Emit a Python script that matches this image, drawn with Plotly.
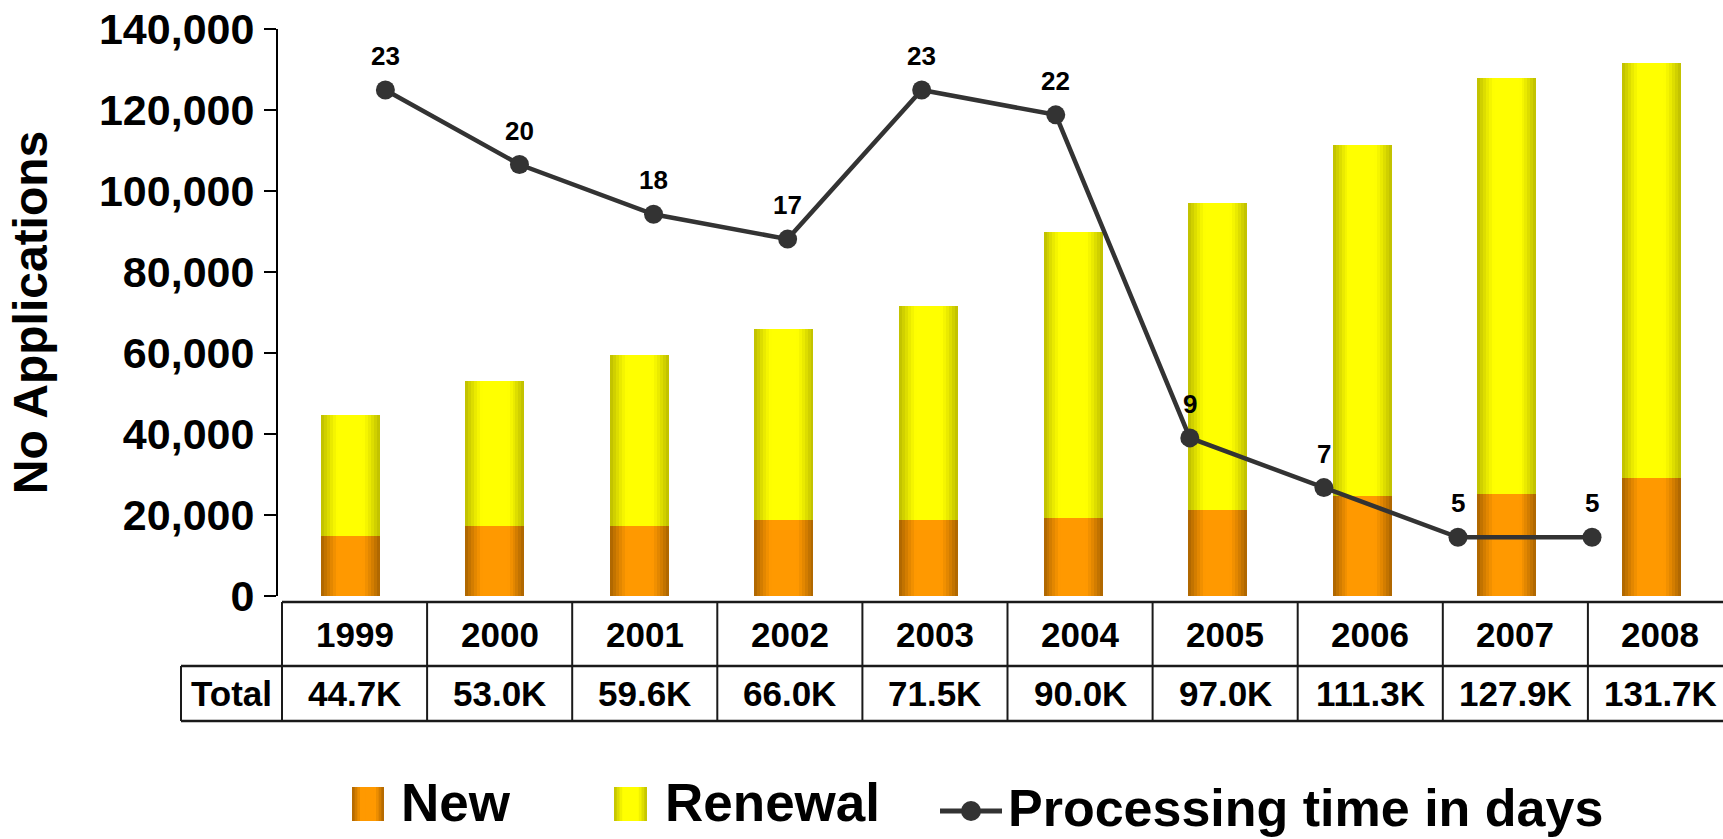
import numpy as np
import plotly.graph_objects as go

# ---------------- data ----------------
years = ["1999", "2000", "2001", "2002", "2003", "2004", "2005", "2006", "2007", "2008"]
new_apps = [14800, 17300, 17300, 18800, 18800, 19300, 21200, 24700, 25200, 29100]
renewal_apps = [29900, 35700, 42300, 47200, 52700, 70700, 75800, 86600, 102700, 102600]
total_labels = ["44.7K", "53.0K", "59.6K", "66.0K", "71.5K", "90.0K", "97.0K", "111.3K", "127.9K", "131.7K"]
proc_years = [1999, 2000, 2001, 2002, 2003, 2004, 2005, 2006, 2007, 2008]
proc_days = [23, 20, 18, 17, 23, 22, 9, 7, 5, 5]
y_ticks = [0, 20000, 40000, 60000, 80000, 100000, 120000, 140000]

# ---------------- layout geometry ----------------
W, H = 1723, 839
ML, MR, MT, MB = 278, 0, 29, 243
PW = W - ML - MR
PH = H - MT - MB
CAT_PX = 144.56          # pixels per category on bar axis
LINE_PX = 134.07         # pixels per step on the line axis
FONT = "Liberation Sans, Arial, sans-serif"


def px2x(px):
    return (px - ML) / PW


def px2y(py):
    return (H - MB - py) / PH


ORANGE_DARK, ORANGE_BRIGHT = (168, 98, 0), (255, 153, 0)
YELLOW_DARK, YELLOW_BRIGHT = (188, 188, 0), (255, 255, 0)


def shade(dark, bright, t):
    f = min(1.0, 1.3 * np.sin(np.pi * t))
    return "rgb(%d,%d,%d)" % tuple(int(round(d + (b - d) * f)) for d, b in zip(dark, bright))


BAR_W = 0.408
N_STRIP = 20

fig = go.Figure()

# gradient bars built from narrow overlaid strips
for series, base, dark, bright in [
    (new_apps, [0] * len(new_apps), ORANGE_DARK, ORANGE_BRIGHT),
    (renewal_apps, new_apps, YELLOW_DARK, YELLOW_BRIGHT),
]:
    for k in range(N_STRIP):
        t0 = k / N_STRIP
        tc = (k + 0.5) / N_STRIP
        fig.add_bar(
            x=years, y=series, base=base,
            offset=-BAR_W / 2 + t0 * BAR_W, width=BAR_W * (1 - t0),
            marker=dict(color=shade(dark, bright, tc), line=dict(width=0)),
            showlegend=False, hoverinfo="skip",
        )

# processing time line
fig.add_trace(go.Scatter(
    x=proc_years, y=proc_days, xaxis="x2", yaxis="y2",
    mode="lines+markers",
    line=dict(color="#333333", width=4.5),
    marker=dict(size=19, color="#333333"),
    showlegend=False, hoverinfo="skip",
))

annotations = []
for yr, d in zip(proc_years, proc_days):
    annotations.append(dict(
        x=yr, y=d, xref="x2", yref="y2", text=str(d), showarrow=False,
        yshift=34, font=dict(family=FONT, size=26, color="black", weight="bold"),
    ))

# ---------------- table below chart ----------------
shapes = []
LINE_COL = "#1a1a1a"
T_TOP, T_MID, T_BOT = 602, 666, 721
COL0, COL_W = 282, 145.1
TOTAL_LEFT = 181


def hline(x0, x1, y):
    shapes.append(dict(type="line", xref="paper", yref="paper",
                       x0=px2x(x0), x1=px2x(x1), y0=px2y(y), y1=px2y(y),
                       line=dict(color=LINE_COL, width=2.5)))


def vline(x, y0, y1):
    shapes.append(dict(type="line", xref="paper", yref="paper",
                       x0=px2x(x), x1=px2x(x), y0=px2y(y0), y1=px2y(y1),
                       line=dict(color=LINE_COL, width=2)))


hline(COL0, W + 5, T_TOP)
hline(TOTAL_LEFT, W + 5, T_MID)
hline(TOTAL_LEFT, W + 5, T_BOT)
vline(TOTAL_LEFT, T_MID, T_BOT)
for k in range(len(years)):
    vline(COL0 + k * COL_W, T_TOP, T_BOT)

TFONT = dict(family=FONT, size=35, color="black", weight="bold")
for k, (yr, tot) in enumerate(zip(years, total_labels)):
    cx = COL0 + (k + 0.5) * COL_W
    annotations.append(dict(x=px2x(cx), y=px2y((T_TOP + T_MID) / 2), xref="paper", yref="paper",
                            text=yr, showarrow=False, font=TFONT, xanchor="center", yanchor="middle"))
    annotations.append(dict(x=px2x(cx), y=px2y((T_MID + T_BOT) / 2), xref="paper", yref="paper",
                            text=tot, showarrow=False, font=TFONT, xanchor="center", yanchor="middle"))
annotations.append(dict(x=px2x((TOTAL_LEFT + COL0) / 2), y=px2y((T_MID + T_BOT) / 2),
                        xref="paper", yref="paper", text="Total", showarrow=False,
                        font=TFONT, xanchor="center", yanchor="middle"))

# ---------------- legend (drawn manually) ----------------
LFONT = dict(family=FONT, size=53, color="black", weight="bold")


def swatch(x0, x1, y0, y1, dark, bright, n=12):
    for k in range(n):
        t0 = k / n
        tc = (k + 0.5) / n
        shapes.append(dict(type="rect", xref="paper", yref="paper",
                           x0=px2x(x0 + (x1 - x0) * t0), x1=px2x(x1),
                           y0=px2y(y1), y1=px2y(y0),
                           fillcolor=shade(dark, bright, tc), line=dict(width=0)))


swatch(352, 384, 787, 821, ORANGE_DARK, ORANGE_BRIGHT)
swatch(614, 647, 787, 821, YELLOW_DARK, YELLOW_BRIGHT)
annotations.append(dict(x=px2x(399), y=px2y(802), xref="paper", yref="paper", text="New",
                        showarrow=False, font=LFONT, xanchor="left", yanchor="middle"))
annotations.append(dict(x=px2x(663), y=px2y(802), xref="paper", yref="paper", text="Renewal",
                        showarrow=False, font=LFONT, xanchor="left", yanchor="middle"))
shapes.append(dict(type="line", xref="paper", yref="paper",
                   x0=px2x(940), x1=px2x(1002), y0=px2y(811), y1=px2y(811),
                   line=dict(color="#333333", width=5)))
shapes.append(dict(type="circle", xref="paper", yref="paper",
                   x0=px2x(961), x1=px2x(981), y0=px2y(821), y1=px2y(801),
                   fillcolor="#333333", line=dict(width=0)))
annotations.append(dict(x=px2x(1006), y=px2y(808), xref="paper", yref="paper",
                        text="Processing time in days", showarrow=False,
                        font=dict(family=FONT, size=52, color="black", weight="bold"),
                        xanchor="left", yanchor="middle"))

x2_lo = 1999 - (385.4 - ML) / LINE_PX
y2_lo = 5 - (596 - 537.3) / 24.85
y2_hi = 5 + (537.3 - 29) / 24.85

fig.update_layout(
    width=W, height=H,
    margin=dict(l=ML, r=MR, t=MT, b=MB, pad=0),
    paper_bgcolor="white", plot_bgcolor="white",
    barmode="overlay", bargap=0,
    showlegend=False,
    xaxis=dict(type="category", categoryorder="array", categoryarray=years,
               range=[-0.5, -0.5 + PW / CAT_PX],
               showticklabels=False, ticks="", showline=False, showgrid=False, zeroline=False),
    yaxis=dict(range=[0, 140000], tickvals=y_ticks, tickformat=",d",
               ticks="outside", ticklen=12, tickwidth=2, tickcolor="black",
               showline=True, linewidth=2, linecolor="black",
               showgrid=False, zeroline=False, ticklabelstandoff=1,
               tickfont=dict(family=FONT, size=43, color="black", weight="bold"),
               title=dict(text="No Applications", standoff=36,
                          font=dict(family=FONT, size=48, color="black", weight="bold"))),
    xaxis2=dict(overlaying="x", anchor="y2", range=[x2_lo, x2_lo + PW / LINE_PX], visible=False),
    yaxis2=dict(overlaying="y", anchor="x2", range=[y2_lo, y2_hi], visible=False),
    shapes=shapes,
    annotations=annotations,
)

fig.write_html("out.html")
